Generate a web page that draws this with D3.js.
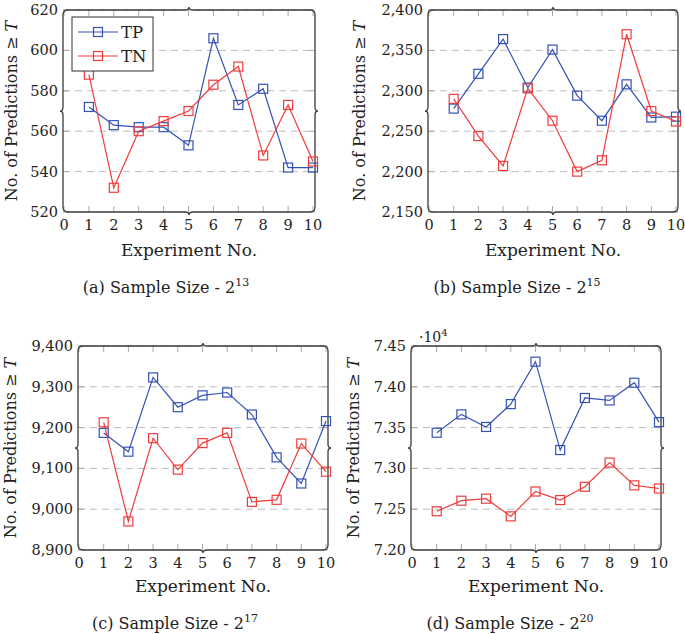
<!DOCTYPE html>
<html>
<head>
<meta charset="utf-8">
<script src="https://cdn.jsdelivr.net/npm/d3@7/dist/d3.min.js"></script>
<style>
  html, body { margin: 0; padding: 0; background: #fff; }
  svg { display: block; }
  text { font-family: "DejaVu Serif", serif; fill: #222; }
</style>
</head>
<body>
<svg id="chart" width="685" height="634"></svg>
<script>
const experiments = [1, 2, 3, 4, 5, 6, 7, 8, 9, 10];
const xTicks = [0, 1, 2, 3, 4, 5, 6, 7, 8, 9, 10];

// (a) 2^13
const tpA = [572, 563, 562, 562, 553, 606, 573, 581, 542, 542];
const tnA = [588, 532, 560, 565, 570, 583, 592, 548, 573, 545];
const ticksA = [520, 540, 560, 580, 600, 620];

// (b) 2^15
const tpB = [2278, 2321, 2364, 2304, 2351, 2294, 2263, 2308, 2267, 2268];
const tnB = [2290, 2244, 2207, 2303, 2263, 2200, 2214, 2370, 2275, 2262];
const ticksB = [2150, 2200, 2250, 2300, 2350, 2400];

// (c) 2^17
const tpC = [9187, 9141, 9323, 9250, 9279, 9286, 9232, 9127, 9063, 9216];
const tnC = [9213, 8970, 9174, 9097, 9162, 9187, 9018, 9023, 9161, 9092];
const ticksC = [8900, 9000, 9100, 9200, 9300, 9400];

// (d) 2^20
const tpD = [73437, 73662, 73508, 73788, 74308, 73225, 73863, 73833, 74050, 73567];
const tnD = [72475, 72604, 72629, 72412, 72717, 72612, 72775, 73071, 72792, 72754];
const ticksD = [72000, 72500, 73000, 73500, 74000, 74500];

const BLUE = "#3452b4";
const RED = "#f03c3c";

const panels = [
  { tp: tpA, tn: tnA, ticks: ticksA, fmt: d3.format(""), box: [63, 10, 315, 212],
    yLabelX: 17, tag: "(a)", exp: "13", capX: 166, xLabY: 251, capY: 288, legend: true },
  { tp: tpB, tn: tnB, ticks: ticksB, fmt: d3.format(","), box: [428, 10, 678, 212],
    yLabelX: 365, tag: "(b)", exp: "15", capX: 517, xLabY: 251, capY: 288 },
  { tp: tpC, tn: tnC, ticks: ticksC, fmt: d3.format(","), box: [78, 346, 328, 550],
    yLabelX: 16, tag: "(c)", exp: "17", capX: 175, xLabY: 587, capY: 624 },
  { tp: tpD, tn: tnD, ticks: ticksD, fmt: d => d3.format(".2f")(d / 1e4), box: [411, 346, 661, 550],
    yLabelX: 359, tag: "(d)", exp: "20", capX: 510, xLabY: 587, capY: 624, mult: true }
];

const svg = d3.select("#chart");

// frame like pgfplots brace decoration: rounded corners and a small tip mid-edge
function framePath(l, t, r, b) {
  const rr = 5, tip = 3, w = 4;
  const mx = (l + r) / 2, my = (t + b) / 2;
  const p = d3.path();
  p.moveTo(l + rr, t);
  p.lineTo(mx - w, t); p.quadraticCurveTo(mx, t, mx, t - tip); p.quadraticCurveTo(mx, t, mx + w, t);
  p.lineTo(r - rr, t); p.quadraticCurveTo(r, t, r, t + rr);
  p.lineTo(r, my - w); p.quadraticCurveTo(r, my, r + tip, my); p.quadraticCurveTo(r, my, r, my + w);
  p.lineTo(r, b - rr); p.quadraticCurveTo(r, b, r - rr, b);
  p.lineTo(mx + w, b); p.quadraticCurveTo(mx, b, mx, b + tip); p.quadraticCurveTo(mx, b, mx - w, b);
  p.lineTo(l + rr, b); p.quadraticCurveTo(l, b, l, b - rr);
  p.lineTo(l, my + w); p.quadraticCurveTo(l, my, l - tip, my); p.quadraticCurveTo(l, my, l, my - w);
  p.lineTo(l, t + rr); p.quadraticCurveTo(l, t, l + rr, t);
  return p.toString();
}

function drawSeries(g, x, y, values, color) {
  const line = d3.line().x((d, i) => x(experiments[i])).y(d => y(d));
  g.append("path").datum(values)
    .attr("d", line).attr("fill", "none")
    .attr("stroke", color).attr("stroke-width", 1.2);
  g.selectAll(null).data(values).join("rect")
    .attr("x", (d, i) => x(experiments[i]) - 4.5)
    .attr("y", d => y(d) - 4.5)
    .attr("width", 9).attr("height", 9)
    .attr("fill", "none").attr("stroke", color).attr("stroke-width", 1.2);
}

panels.forEach(p => {
  const [l, t, r, b] = p.box;
  const g = svg.append("g");
  const x = d3.scaleLinear().domain([0, 10]).range([l + 1, r - 2]);
  const y = d3.scaleLinear().domain(d3.extent(p.ticks)).range([b, t]);

  // dashed grid
  g.append("g").selectAll("line").data(p.ticks.slice(1)).join("line")
    .attr("x1", l).attr("x2", r)
    .attr("y1", d => y(d)).attr("y2", d => y(d))
    .attr("stroke", "#bdbdbd").attr("stroke-width", 1).attr("stroke-dasharray", "7,5");

  // inner tick marks on all four sides
  const tk = g.append("g").attr("stroke", "#a8a8a8").attr("stroke-width", 1);
  tk.selectAll(null).data(xTicks).join("line")
    .attr("x1", d => x(d)).attr("x2", d => x(d)).attr("y1", t).attr("y2", t + 6);
  tk.selectAll(null).data(xTicks).join("line")
    .attr("x1", d => x(d)).attr("x2", d => x(d)).attr("y1", b).attr("y2", b - 6);
  tk.selectAll(null).data(p.ticks).join("line")
    .attr("y1", d => y(d)).attr("y2", d => y(d)).attr("x1", l).attr("x2", l + 6);
  tk.selectAll(null).data(p.ticks).join("line")
    .attr("y1", d => y(d)).attr("y2", d => y(d)).attr("x1", r).attr("x2", r - 6);

  g.append("path").attr("d", framePath(l, t, r, b))
    .attr("fill", "none").attr("stroke", "#3a3a3a").attr("stroke-width", 1.3);

  // tick labels
  g.append("g").selectAll("text").data(xTicks).join("text")
    .attr("x", d => x(d)).attr("y", b + 18)
    .attr("text-anchor", "middle").style("font-size", "14.5px")
    .text(d => d);
  g.append("g").selectAll("text").data(p.ticks).join("text")
    .attr("x", l - 5).attr("y", d => y(d) + 5)
    .attr("text-anchor", "end").style("font-size", "14.5px")
    .text(p.fmt);

  drawSeries(g, x, y, p.tp, BLUE);
  drawSeries(g, x, y, p.tn, RED);

  // axis titles
  g.append("text")
    .attr("x", (l + r) / 2).attr("y", p.xLabY + 5)
    .attr("text-anchor", "middle").style("font-size", "17px")
    .text("Experiment No.");
  const yl = g.append("text")
    .attr("transform", `translate(${p.yLabelX},${(t + b) / 2}) rotate(-90)`)
    .attr("text-anchor", "middle").style("font-size", "16px");
  yl.append("tspan").text("No. of Predictions \u2265 ");
  yl.append("tspan").style("font-style", "italic").text("T");

  // caption
  const cap = g.append("text")
    .attr("x", p.capX).attr("y", p.capY + 5)
    .attr("text-anchor", "middle").style("font-size", "16px");
  cap.append("tspan").text(`${p.tag} Sample Size - 2`);
  cap.append("tspan").attr("dy", -7).style("font-size", "11px").text(p.exp);

  if (p.mult) {
    const m = g.append("text").attr("x", l + 8).attr("y", t - 4).style("font-size", "14px");
    m.append("tspan").text("\u00b710");
    m.append("tspan").attr("dy", -6).style("font-size", "10px").text("4");
  }

  if (p.legend) {
    const lg = g.append("g");
    lg.append("rect").attr("x", 72).attr("y", 17).attr("width", 81).attr("height", 54)
      .attr("fill", "#fff").attr("stroke", "#333").attr("stroke-width", 1);
    [["TP", BLUE, 32], ["TN", RED, 56]].forEach(([name, c, yy]) => {
      lg.append("line").attr("x1", 78).attr("x2", 118).attr("y1", yy).attr("y2", yy)
        .attr("stroke", c).attr("stroke-width", 1.2);
      lg.append("rect").attr("x", 93.5).attr("y", yy - 4.5).attr("width", 9).attr("height", 9)
        .attr("fill", "none").attr("stroke", c).attr("stroke-width", 1.2);
      lg.append("text").attr("x", 121).attr("y", yy + 6).style("font-size", "16.5px").text(name);
    });
  }
});
</script>
</body>
</html>
